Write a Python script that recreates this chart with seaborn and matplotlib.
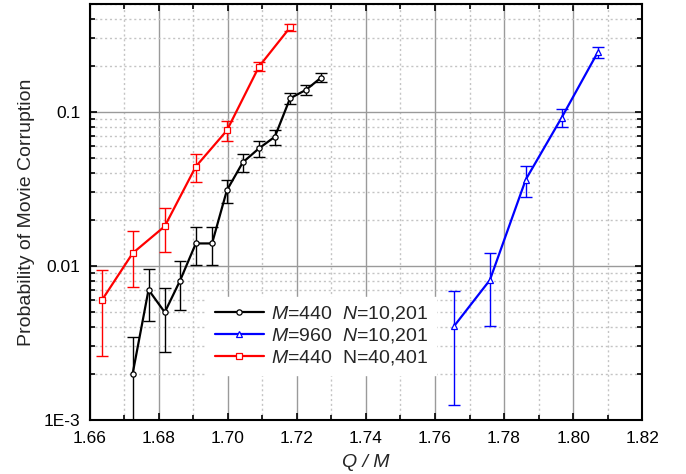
import numpy as np
import seaborn as sns
import matplotlib.pyplot as plt
from matplotlib.ticker import MultipleLocator, LogLocator, FixedLocator, FixedFormatter, NullFormatter

# data
x_440 = [1.6724, 1.6770, 1.6817, 1.6861, 1.6907, 1.6954, 1.6997, 1.7043, 1.7090, 1.7136, 1.7180, 1.7226, 1.7270]
p_440 = [0.0020, 0.0070, 0.0050, 0.0080, 0.0140, 0.0140, 0.031, 0.047, 0.058, 0.069, 0.1225, 0.139, 0.167]
e_440 = [0.00145, 0.0026, 0.00224, 0.0028, 0.0038, 0.0038, 0.0052, 0.0062, 0.0070, 0.0077, 0.0102, 0.0103, 0.0117]

x_960 = [1.7655, 1.7759, 1.7863, 1.7967, 1.8072]
p_960 = [0.00406, 0.0081, 0.0364, 0.0919, 0.245]
e_960 = [0.0028, 0.0040, 0.0082, 0.0126, 0.020]

x_440b = [1.6635, 1.6724, 1.6817, 1.6907, 1.6997, 1.7090, 1.7180]
p_440b = [0.0060, 0.0121, 0.0181, 0.0442, 0.0758, 0.197, 0.3535]
e_440b = [0.0034, 0.0048, 0.0058, 0.0090, 0.0114, 0.0137, 0.020]

labels = ['$M$=440  $N$=10,201', '$M$=960  $N$=10,201', '$M$=440  N=40,401']

sns.set_style('ticks')
plt.rcParams['font.family'] = ['Liberation Sans', 'DejaVu Sans']
plt.rcParams['mathtext.fontset'] = 'custom'
plt.rcParams['mathtext.it'] = 'Liberation Sans:italic'
plt.rcParams['mathtext.rm'] = 'Liberation Sans'

fig = plt.figure(figsize=(6.86, 4.74), dpi=100)
ax = fig.add_axes([0.131, 0.114, 0.805, 0.877])

series = [
    (x_440, p_440, e_440, 'black', 'o'),
    (x_960, p_960, e_960, '#0000ff', '^'),
    (x_440b, p_440b, e_440b, '#ff0000', 's'),
]
for (xs, ps, es, col, mk), lab in zip(series, labels):
    ax.errorbar(xs, ps, yerr=es, fmt='none', ecolor=col, elinewidth=1.0,
                capsize=4, capthick=1.0, zorder=3)
    sns.lineplot(x=xs, y=ps, ax=ax, color=col, marker=mk, markersize=3.8,
                 markerfacecolor='white', markeredgecolor=col, markeredgewidth=0.9,
                 linewidth=1.6, label=lab, zorder=4)

ax.set_yscale('log')
ax.set_xlim(1.66, 1.82)
ax.set_ylim(1e-3, 0.5)

ax.xaxis.set_major_locator(MultipleLocator(0.02))
ax.xaxis.set_minor_locator(MultipleLocator(0.01))
ax.xaxis.set_major_formatter(plt.FuncFormatter(lambda v, pos: f'{v:.2f}'))
ax.yaxis.set_major_locator(FixedLocator([1e-3, 1e-2, 1e-1]))
ax.yaxis.set_major_formatter(FixedFormatter(['1E-3', '0.01', '0.1']))
ax.yaxis.set_minor_locator(LogLocator(base=10, subs=np.arange(2, 10)))
ax.yaxis.set_minor_formatter(NullFormatter())

ax.tick_params(which='both', direction='in', top=True, right=True, labelsize=12.5, colors='black')
ax.tick_params(which='major', length=5, width=1.2)
ax.tick_params(which='minor', length=3.5, width=1.2)
ax.tick_params(axis='x', which='major', pad=8)
ax.tick_params(axis='y', which='major', pad=7)

ax.grid(which='major', color='#9a9a9a', linestyle='-', linewidth=1.0)
ax.grid(which='minor', color='#c4c4c4', linestyle=(0, (1.5, 2)), linewidth=1.0)
ax.set_axisbelow(True)
for s in ax.spines.values():
    s.set_linewidth(1.5)
    s.set_color('black')

ax.set_xlabel('Q / M', fontsize=14, fontstyle='italic', labelpad=6)
ax.set_ylabel('Probability of Movie Corruption', fontsize=14, labelpad=6)

leg = ax.legend(loc='lower left', bbox_to_anchor=(0.195, 0.085), fontsize=14, frameon=True,
                framealpha=1, edgecolor='white', fancybox=False, numpoints=1,
                handlelength=2.5, handletextpad=0.4, labelspacing=0.15, borderpad=0.4)
leg.set_zorder(5)

fig.savefig('out.png', dpi=100)
